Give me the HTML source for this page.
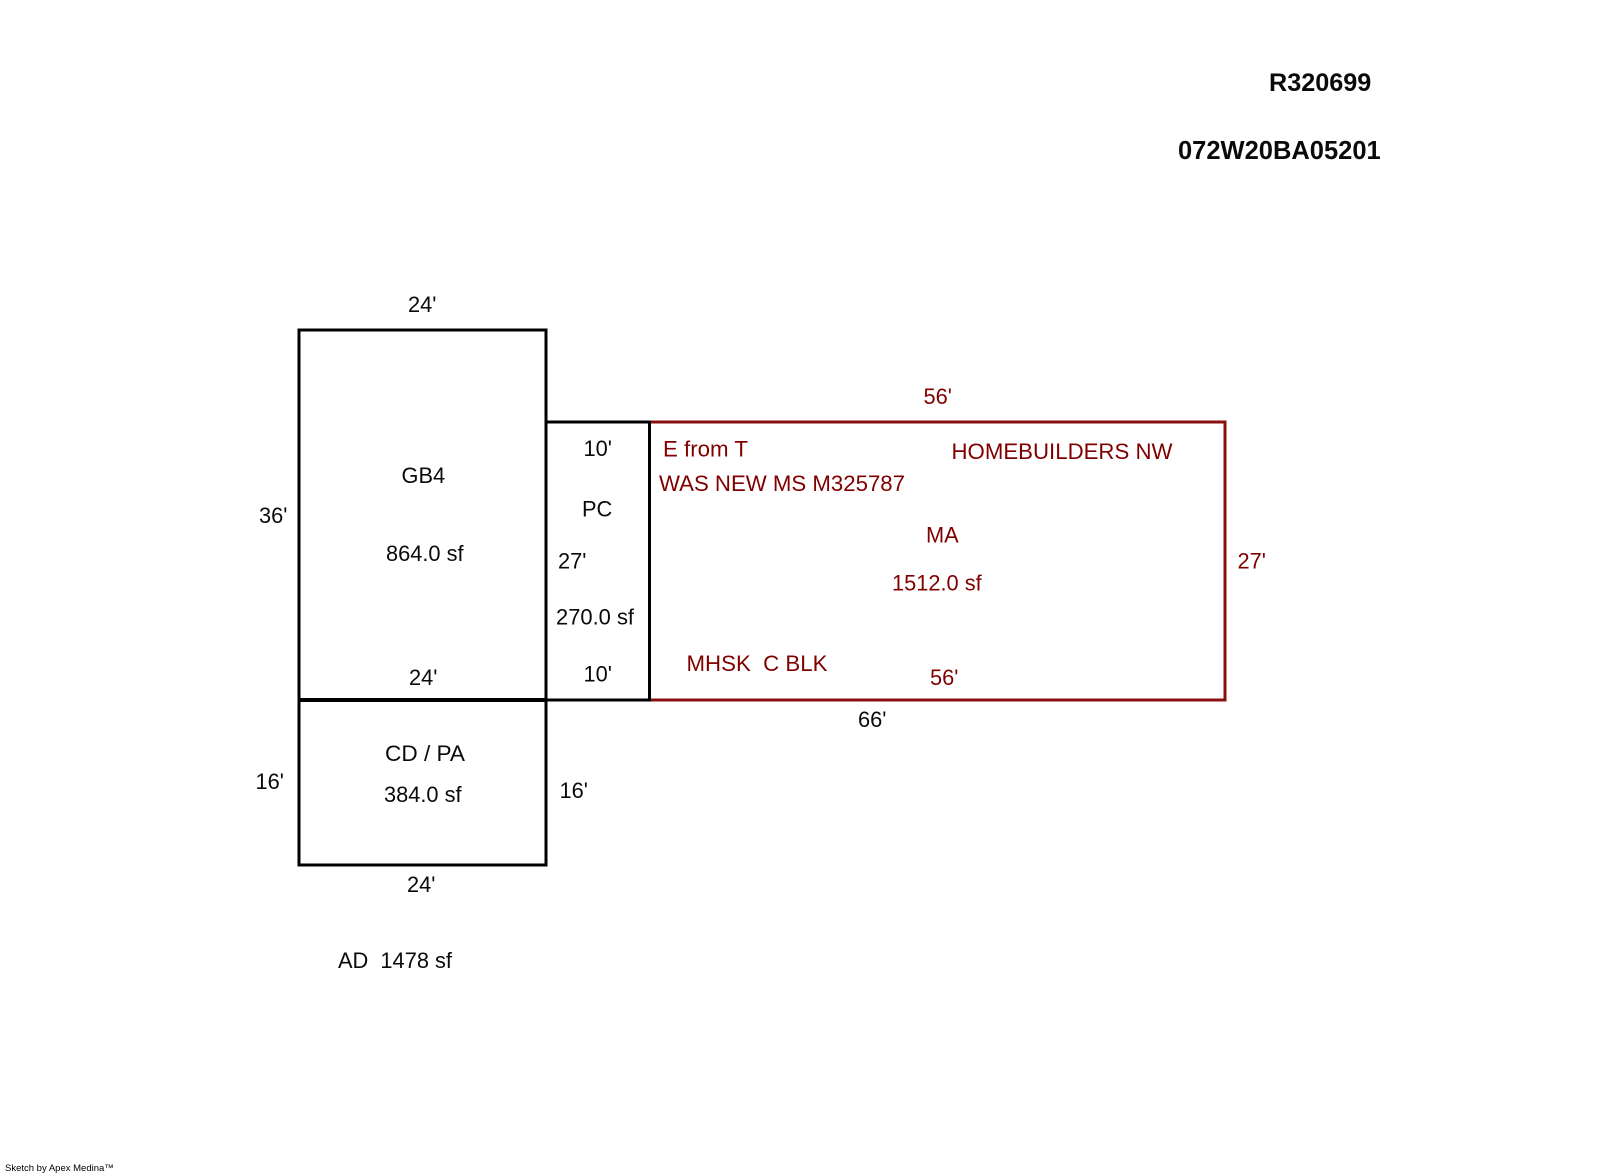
<!DOCTYPE html>
<html><head><meta charset="utf-8"><style>
html,body{margin:0;padding:0;background:#fff}
svg{display:block}
text{font-family:"Liberation Sans",Arial,sans-serif;font-size:21.8px;fill:#0a0a0a}
.r text{fill:#800000}
</style></head><body>
<svg width="1600" height="1174" viewBox="0 0 1600 1174" xmlns="http://www.w3.org/2000/svg">
<g fill="none" stroke-linejoin="miter" stroke-linecap="square">
<rect x="649.5" y="422" width="575.5" height="278" stroke="#8a1010" stroke-width="3"/>
<rect x="546" y="422" width="103.5" height="278" stroke="#000" stroke-width="3"/>
<rect x="299" y="330" width="247" height="369.5" stroke="#000" stroke-width="3"/>
<rect x="299" y="700.5" width="247" height="164.5" stroke="#000" stroke-width="3"/>
</g>
<text x="1269" y="91" style="font-weight:700;font-size:25.2px">R320699</text>
<text x="1178" y="159" style="font-weight:700;font-size:25.5px">072W20BA05201</text>
<text x="408" y="312">24'</text>
<text x="583.5" y="456">10'</text>
<text x="401.5" y="483">GB4</text>
<text x="582" y="516.5">PC</text>
<text x="259" y="523">36'</text>
<text x="386" y="561">864.0 sf</text>
<text x="558" y="568.5">27'</text>
<text x="556" y="624.5" textLength="78" lengthAdjust="spacingAndGlyphs">270.0 sf</text>
<text x="409" y="685">24'</text>
<text x="583.5" y="681.5">10'</text>
<text x="385" y="761" textLength="80" lengthAdjust="spacingAndGlyphs">CD / PA</text>
<text x="255.5" y="789">16'</text>
<text x="384" y="802">384.0 sf</text>
<text x="559.5" y="798">16'</text>
<text x="407" y="892">24'</text>
<text x="858" y="727">66'</text>
<text x="338" y="968" xml:space="preserve" textLength="114" lengthAdjust="spacingAndGlyphs">AD  1478 sf</text>
<g class="r">
<text x="923.5" y="404">56'</text>
<text x="663" y="456.5" textLength="85" lengthAdjust="spacingAndGlyphs">E from T</text>
<text x="951.5" y="459" textLength="221" lengthAdjust="spacingAndGlyphs">HOMEBUILDERS NW</text>
<text x="659" y="491" textLength="246" lengthAdjust="spacingAndGlyphs">WAS NEW MS M325787</text>
<text x="926" y="542.5">MA</text>
<text x="892" y="590.5">1512.0 sf</text>
<text x="1237.5" y="568.5">27'</text>
<text x="686.5" y="671" xml:space="preserve" textLength="141" lengthAdjust="spacingAndGlyphs">MHSK  C BLK</text>
<text x="930" y="685">56'</text>
</g>
<text x="5" y="1171" style="font-size:9.5px;fill:#000">Sketch by Apex Medina™</text>
</svg>
</body></html>
